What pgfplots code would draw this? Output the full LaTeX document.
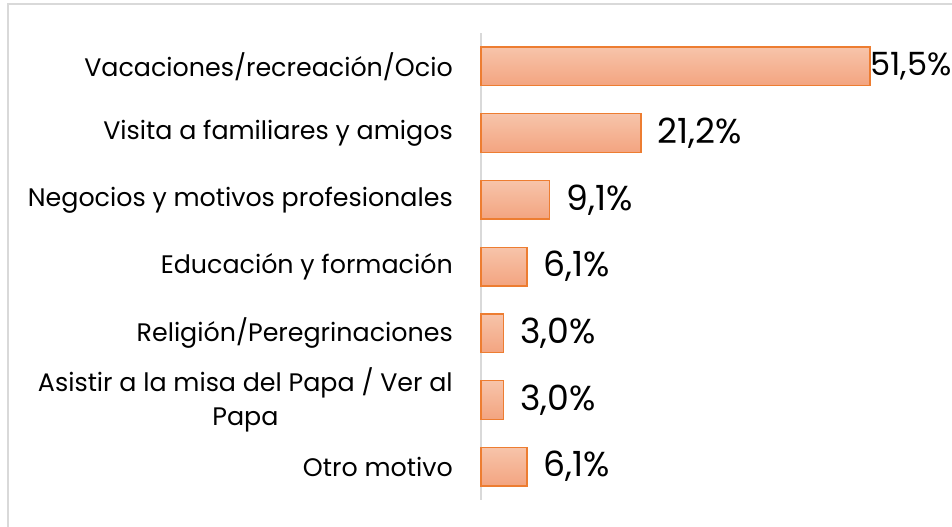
\documentclass[border=0pt]{standalone}
\usepackage{fontspec}
\setmainfont{Poppins}
\usepackage{pgfplots}
\pgfplotsset{compat=1.18}
\definecolor{barline}{RGB}{237,125,49}
\definecolor{bartop}{RGB}{247,196,170}
\definecolor{barbot}{RGB}{243,164,128}
\definecolor{framegray}{RGB}{217,217,217}
\pgfplotsset{
  mybar/.style 2 args={draw=barline, line width=1pt, top color=bartop, bottom color=barbot, bar shift=0pt,
    every node near coord/.append style={anchor=west, inner sep=0pt, xshift=#1, font=\fontsize{#2}{30pt}\selectfont, text=black}},
}
\begin{document}
\begin{tikzpicture}
\useasboundingbox (0,0) rectangle (714pt,394.5pt);
\draw[framegray, line width=1.5pt] (6pt,-2pt) -- (6pt,391.5pt) -- (716pt,391.5pt);
\begin{axis}[
  at={(360.75pt,19.5pt)}, anchor=south west,
  scale only axis, width=339.8pt, height=350.25pt,
  xbar, bar width=29pt,
  xmin=0, xmax=60,
  ymin=-0.5, ymax=6.5, y dir=reverse,
  axis x line=none, axis y line*=left,
  y axis line style={-, draw=framegray, line width=1.5pt},
  ytick={0,...,6},
  yticklabels={Vacaciones/recreación/Ocio, Visita a familiares y amigos, Negocios y motivos profesionales, Educación y formación, Religión/Peregrinaciones, {Asistir a la misa del Papa / Ver al\\Papa}, Otro motivo},
  major tick length=0pt,
  ytick style={draw=none},
  yticklabel style={font=\fontsize{19pt}{25pt}\selectfont, align=center, inner sep=0pt, xshift=-21pt, text=black},
  clip=false,
  point meta=explicit symbolic,
  nodes near coords,
]
\addplot[mybar={0pt}{24pt}] coordinates {(51.5,0) [51,5\%]};
\addplot[mybar={12pt}{26pt}] coordinates {(21.2,1) [21,2\%]};
\addplot[mybar={12pt}{26pt}] coordinates {(9.1,2) [9,1\%]};
\addplot[mybar={12pt}{26pt}] coordinates {(6.1,3) [6,1\%]};
\addplot[mybar={12pt}{26pt}] coordinates {(3.0,4) [3,0\%]};
\addplot[mybar={12pt}{26pt}] coordinates {(3.0,5) [3,0\%]};
\addplot[mybar={12pt}{26pt}] coordinates {(6.1,6) [6,1\%]};
\end{axis}
\end{tikzpicture}
\end{document}
